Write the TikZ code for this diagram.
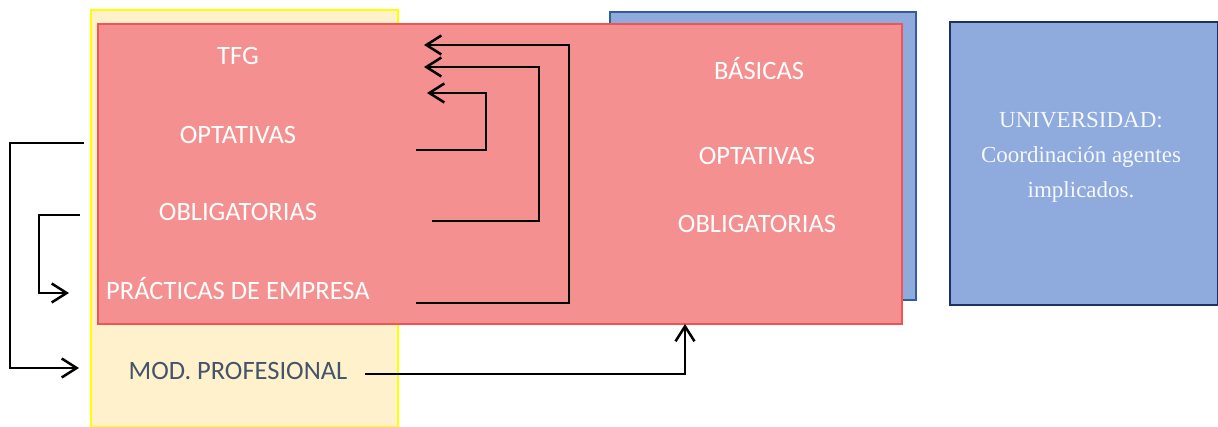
\documentclass[tikz,border=0pt]{standalone}
\usepackage{fontspec}
\setmainfont{Carlito}
\newfontfamily\garamond{Liberation Serif}
\usetikzlibrary{arrows.meta}
\usetikzlibrary{positioning}
\definecolor{crema}{RGB}{255,241,204}
\definecolor{amarillo}{RGB}{255,255,0}
\definecolor{rosa}{RGB}{245,144,144}
\definecolor{rojoborde}{RGB}{240,84,84}
\definecolor{azulclaro}{RGB}{143,170,220}
\definecolor{azulborde}{RGB}{52,92,150}
\definecolor{marino}{RGB}{28,50,100}
\definecolor{grisazul}{RGB}{68,84,106}
\tikzset{
  caja/.style={draw, rectangle, inner sep=0pt, anchor=north west},
  etiqueta/.style={text=white, anchor=base, font=\fontsize{26.5}{31}\selectfont},
  flecha/.style={line width=2.5pt, -{Straight Barb[length=15pt,width=19pt]}},
}

\begin{document}
\begin{tikzpicture}[x=1pt,y=-1pt]
  \useasboundingbox (0,0) rectangle (1218,427);

  % cajas
  \node[caja, draw=amarillo, fill=crema, line width=2pt, minimum width=307pt, minimum height=417pt] (modulo) at (90,9) {};
  \node[caja, draw=azulborde, fill=azulclaro, line width=2pt, minimum width=306pt, minimum height=288pt] (atras) at (609,11) {};
  \node[caja, draw=rojoborde, fill=rosa, line width=1.6pt, minimum width=804pt, minimum height=300pt] (rojo) at (97,23) {};
  \node[caja, draw=marino, fill=azulclaro, line width=2pt, minimum width=268pt, minimum height=283pt] (univ) at (949,21) {};

  % textos
  \node[etiqueta] (tfg) at (238,65) {TFG};
  \node[etiqueta] (optIzq) at (238,144) {OPTATIVAS};
  \node[etiqueta] (oblIzq) at (238,221) {OBLIGATORIAS};
  \node[etiqueta] (prac) at (238,300) {PRÁCTICAS DE EMPRESA};
  \node[etiqueta, text=grisazul] (mod) at (238,380) {MOD. PROFESIONAL};
  \node[etiqueta] (basicas) at (759,80) {BÁSICAS};
  \node[etiqueta] (optDer) at (757,165) {OPTATIVAS};
  \node[etiqueta] (oblDer) at (757,233) {OBLIGATORIAS};
  \node[text=white!92!azulclaro, align=center, font=\garamond\fontsize{23}{35}\selectfont] (coord) at (1081,157)
    {UNIVERSIDAD:\\Coordinación agentes\\implicados.};

  % extremos de las flechas
  \coordinate (a1) at (84,143);
  \coordinate (b1) at (79,368);
  \coordinate (a2) at (80,215);
  \coordinate (b2) at (69,293);
  \coordinate (a3) at (416,150);
  \coordinate (b3) at (427,93);
  \coordinate (a4) at (432,221);
  \coordinate (b4) at (424,67);
  \coordinate (a5) at (416,303);
  \coordinate (b5) at (424,45);
  \coordinate (a6) at (365,374);
  \coordinate (b6) at (685,324);

  \draw[flecha] (a1) -- ++(-74,0) |- (b1);
  \draw[flecha] (a2) -- ++(-41,0) |- (b2);
  \draw[flecha] (a3) -- ++(70,0) |- (b3);
  \draw[flecha] (a4) -- ++(107,0) |- (b4);
  \draw[flecha] (a5) -- ++(153,0) |- (b5);
  \draw[flecha] (a6) -| (b6);
\end{tikzpicture}
\end{document}
